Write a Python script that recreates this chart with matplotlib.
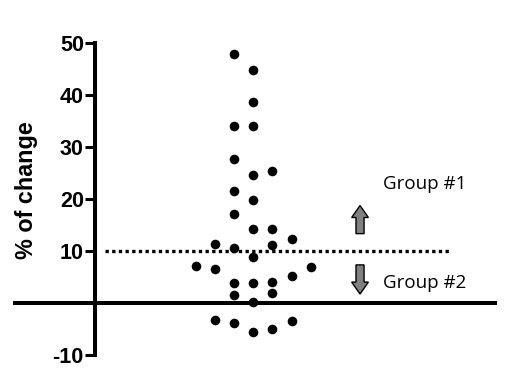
import matplotlib
matplotlib.use("Agg")
import matplotlib.pyplot as plt
from matplotlib.patches import FancyArrow

# beeswarm column offset and % change value for each subject
x_offset = [-1, 0, 0, -1, 0, -1, 0, 1, -1, 0, -1, 0, 1, -2, -1, 1, 2, 0, -3, -2, 3, 2,
            -1, 0, 1, 1, -1, 0, -2, -1, 0, 1, 2]
pct_change = [47.7, 44.8, 38.6, 34.0, 34.0, 27.6, 24.6, 25.3, 21.4, 19.8, 17.1, 14.2, 14.2,
              11.4, 10.6, 11.1, 12.2, 8.9, 7.0, 6.5, 6.9, 5.1, 3.9, 3.8, 4.0, 2.0, 1.5, 0.2,
              -3.3, -3.8, -5.5, -5.1, -3.5]
y_ticks = [-10, 10, 20, 30, 40, 50]
threshold = 10
group_labels = ["Group #1", "Group #2"]

fig = plt.figure(figsize=(5.14, 3.77), dpi=100)
ax = fig.add_axes([15/514, 22/377, 480/514, 312.5/377])
ax.set_xlim(-12.41, 12.59)
ax.set_ylim(-10, 50)

for s in ["top", "right"]:
    ax.spines[s].set_visible(False)
ax.spines["left"].set_position(("data", -8.245))
ax.spines["bottom"].set_position(("data", 0))
ax.spines["left"].set_linewidth(2.9)
ax.spines["bottom"].set_linewidth(2.9)

ax.set_xticks([])
ax.set_yticks(y_ticks)
ax.set_yticklabels([str(t) for t in y_ticks], fontfamily="Liberation Sans", fontweight="bold")
ax.tick_params(axis="y", direction="out", length=7, width=2.2, labelsize=15.5, pad=1.0)

ax.scatter(x_offset, pct_change, s=48, color="black", zorder=3, clip_on=False, linewidths=0)

ax.plot([-7.72, 10.26], [threshold, threshold], color="black", lw=2.4,
        linestyle=(0, (1, 1)), zorder=2)

ax.text(-11.8, 21.7, "% of change", rotation=90, va="center", ha="center",
        fontfamily="Liberation Sans", fontweight="bold", fontsize=16.8)

up = FancyArrow(5.56, 13.3, 0, 5.4, width=0.42, head_width=0.87, head_length=2.3,
                length_includes_head=True, facecolor="#808080", edgecolor="black", lw=1)
down = FancyArrow(5.56, 7.3, 0, -5.6, width=0.42, head_width=0.87, head_length=2.3,
                  length_includes_head=True, facecolor="#808080", edgecolor="black", lw=1)
ax.add_patch(up)
ax.add_patch(down)

ax.text(6.75, 22.9, group_labels[0], va="center", ha="left", fontfamily="Open Sans", fontsize=13.5)
ax.text(6.75, 3.8, group_labels[1], va="center", ha="left", fontfamily="Open Sans", fontsize=13.5)

fig.savefig("out.png", dpi=100)
